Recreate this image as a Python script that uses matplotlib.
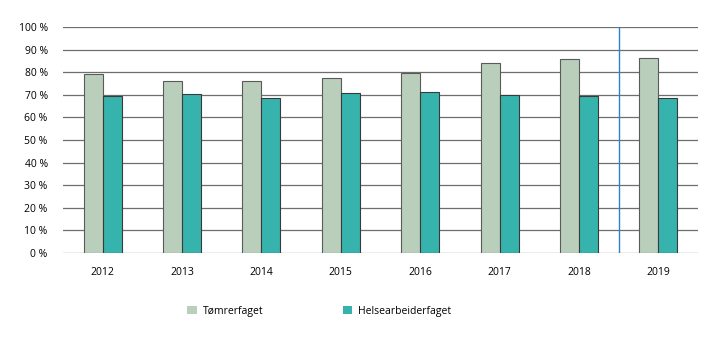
import matplotlib
matplotlib.use("Agg")
import matplotlib.pyplot as plt
import numpy as np

years = ["2012", "2013", "2014", "2015", "2016", "2017", "2018", "2019"]
tomrer = [79, 76, 76, 77.4, 79.6, 84, 85.8, 86.3]
helse = [69.5, 70.3, 68.6, 70.8, 71.2, 69.9, 69.5, 68.6]
yticks = [0, 10, 20, 30, 40, 50, 60, 70, 80, 90, 100]
ytick_labels = [f"{v} %" for v in yticks]

plt.rcParams['font.family'] = ['Open Sans', 'DejaVu Sans']

fig = plt.figure(figsize=(7.19, 3.41), dpi=100)
ax = fig.add_axes([63/719, 1-253/341, 635/719, 226/341])

x = np.arange(len(years))
w = 0.24
ax.bar(x - w/2, tomrer, width=w, color="#b9cfbb", edgecolor="#5a5a5a", linewidth=0.8, label="Tømrerfaget", zorder=3)
ax.bar(x + w/2, helse, width=w, color="#36b3ad", edgecolor="#3a3a3a", linewidth=0.8, label="Helsearbeiderfaget", zorder=3)

ax.set_xlim(-0.5, len(years) - 0.5)
ax.set_ylim(0, 100)
ax.set_yticks(yticks)
ax.set_yticklabels(ytick_labels, fontsize=7.5)
ax.set_xticks(x)
ax.set_xticklabels(years, fontsize=7.5)
ax.tick_params(axis='x', length=0, pad=10)
ax.tick_params(axis='y', length=0, pad=11)
for s in ax.spines.values():
    s.set_visible(False)
for v in yticks:
    ax.axhline(v, color="#6e6e6e", linewidth=0.9, zorder=1)

ax.axvline(6.5, color="#2f80d0", linewidth=1.0, zorder=4)

leg = fig.legend(loc="lower left", bbox_to_anchor=(178/719, 1-326/341), ncol=2, frameon=False,
                 fontsize=7.5, handlelength=0.9, handleheight=0.9, columnspacing=7.6, handletextpad=0.6)
for h in leg.legend_handles:
    h.set_edgecolor("none")

fig.savefig("out.png", dpi=100)
